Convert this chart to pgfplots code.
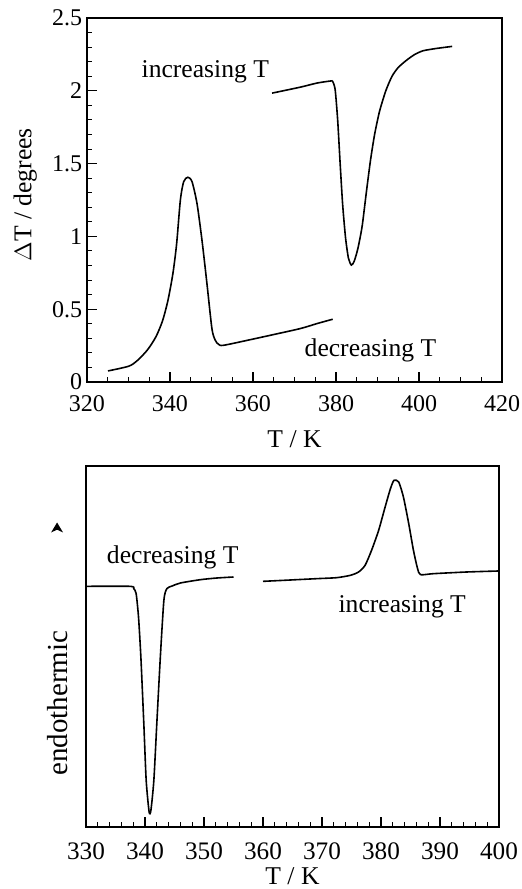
\documentclass[border=0pt]{standalone}
\usepackage{fontspec}
\setmainfont{Liberation Serif}
\usepackage{pgfplots}
\pgfplotsset{compat=1.18}
\begin{document}
\begin{tikzpicture}
\useasboundingbox (0,0) rectangle (260.5pt,444.5pt);
\pgfplotsset{
  every axis/.append style={
    scale only axis, anchor=south west,
    /pgf/number format/assume math mode=true,
    tick align=inside, tick pos=left,
    axis line style={line width=0.6pt},
    major tick style={line width=0.6pt,black},
    minor tick style={line width=0.5pt,black},
    major tick length=5pt, minor tick length=2.6pt,
    tick label style={font=\fontsize{12}{14}\selectfont, inner sep=0pt},
    label style={font=\fontsize{12.8}{15}\selectfont, inner sep=0pt},
  }
}
% ---------------- top panel ----------------
\begin{axis}[
  at={(43.5pt,253.5pt)},
  width=207.5pt, height=182pt,
  xmin=320, xmax=420, ymin=0, ymax=2.5,
  xtick={320,340,...,420}, minor x tick num=3,
  ytick={0,0.5,...,2.5}, minor y tick num=4,
  xticklabel style={yshift=-6.6pt},
  yticklabel style={xshift=-2.2pt},
  xlabel={T / K}, ylabel={$\Delta$T / degrees},
  xlabel style={at={(axis description cs:0.5,-0.156)},anchor=center},
  ylabel style={at={(axis description cs:-0.149,0.514)},anchor=center},
  clip=false,
]
\addplot[black, line width=0.8pt, smooth, tension=0.45] coordinates {
(325.06,0.076) (330.0,0.108) (332.0,0.144) (334.5,0.218) (336.6,0.31)
(338.2,0.42) (339.5,0.56) (340.7,0.745) (341.6,0.95) (342.5,1.25)
(343.3,1.376) (344.3,1.406) (345.3,1.376) (346.5,1.227) (347.7,0.975)
(348.9,0.677) (350.1,0.367) (350.9,0.287) (351.7,0.259) (352.9,0.252)
(359.4,0.291) (364.2,0.321) (371.4,0.367) (375.4,0.401) (379.2,0.431)
};
\addplot[black, line width=0.8pt, smooth, tension=0.4] coordinates {
(364.6,1.984) (371.4,2.025) (375.4,2.053) (378.6,2.067) (379.2,2.064)
(379.8,2.007) (380.4,1.80) (381.0,1.50) (381.6,1.22) (382.3,0.99)
(383.0,0.85) (383.7,0.803) (384.4,0.83) (385.3,0.92) (386.3,1.07)
(387.3,1.30) (388.3,1.52) (389.3,1.70) (390.5,1.86) (392.0,2.0)
(393.5,2.1) (395.0,2.16) (397.0,2.21) (399.0,2.25) (401.0,2.275)
(404.0,2.29) (408.0,2.305)
};
\node[font=\fontsize{12.8}{15}\selectfont] at (axis cs:348.5,2.13) {increasing T};
\node[font=\fontsize{12.8}{15}\selectfont] at (axis cs:388.3,0.218) {decreasing T};
\end{axis}
% ---------------- bottom panel ----------------
\begin{axis}[
  at={(43pt,31pt)},
  width=206.5pt, height=180.5pt,
  xmin=330, xmax=400, ymin=0, ymax=10.83,
  xtick={330,340,...,400}, minor x tick num=4,
  ytick=\empty,
  xticklabel style={yshift=-7.6pt,font=\fontsize{12.6}{14}\selectfont},
  xlabel={T / K}, ylabel={endothermic},
  xlabel style={at={(axis description cs:0.5,-0.137)},anchor=center},
  ylabel style={at={(axis description cs:-0.07,0.343)},anchor=center,font=\fontsize{14.5}{17}\selectfont},
  clip=false,
]
\addplot[black, line width=0.8pt, smooth, tension=0.4] coordinates {
(330.0,7.22) (337.5,7.22) (338.1,7.15) (338.5,7.0) (338.9,6.3)
(339.3,5.1) (339.8,3.1) (340.2,1.4) (340.7,0.45) (341.0,0.5)
(341.5,1.4) (342.0,3.1) (342.6,5.1) (343.2,6.8) (343.7,7.15)
(344.6,7.23) (346.0,7.32) (349.4,7.42) (352.2,7.47) (355.0,7.5)
};
\addplot[black, line width=0.8pt, smooth, tension=0.4] coordinates {
(360.0,7.37) (363.5,7.4) (369.1,7.45) (372.5,7.48) (374.8,7.55)
(376.2,7.65) (377.3,7.85) (378.4,8.3) (379.6,8.9) (380.7,9.6)
(381.6,10.15) (382.2,10.4) (383.0,10.35) (383.8,9.9) (384.7,9.1)
(385.5,8.3) (386.2,7.75) (386.7,7.57) (388.9,7.6) (394.5,7.65)
(399.9,7.68)
};
\node[font=\fontsize{12.8}{15}\selectfont] at (axis cs:344.7,8.1) {decreasing T};
\node[font=\fontsize{12.8}{15}\selectfont] at (axis cs:383.6,6.6) {increasing T};
\coordinate (arr) at (rel axis cs:-0.07,0.828);
\end{axis}
\fill ([shift={(0,2.8pt)}]arr) -- ([shift={(-3pt,-2.2pt)}]arr) -- ([shift={(0,-0.8pt)}]arr) -- ([shift={(3pt,-2.2pt)}]arr) -- cycle;
\end{tikzpicture}
\end{document}
